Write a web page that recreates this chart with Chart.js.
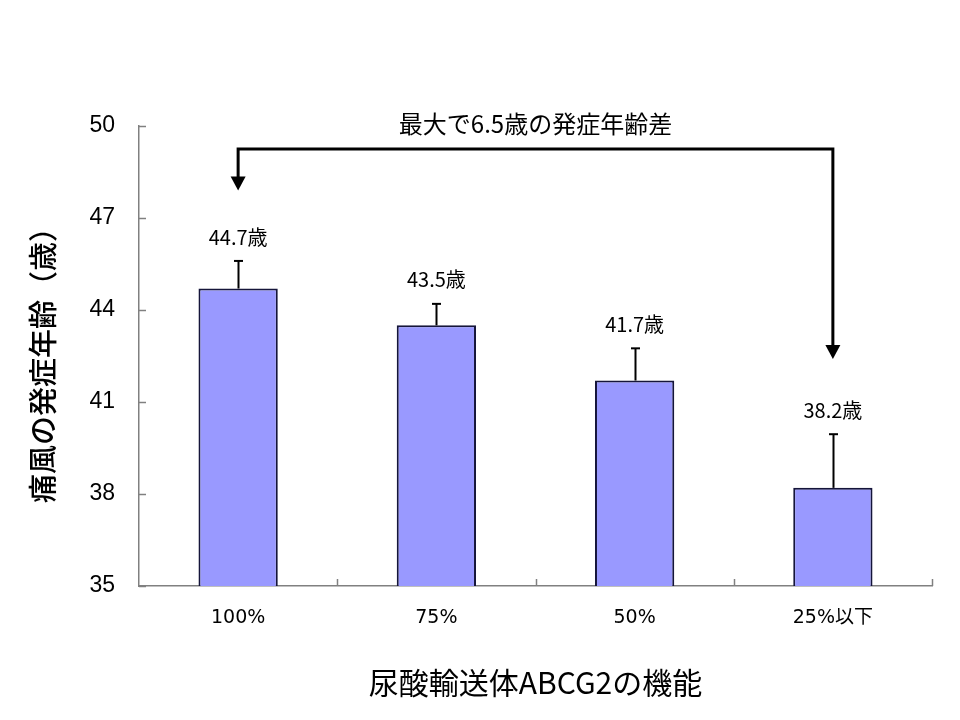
<!DOCTYPE html>
<html><head><meta charset="utf-8">
<script src="https://cdn.jsdelivr.net/npm/chart.js@4/dist/chart.umd.min.js"></script>
<style>html,body{margin:0;padding:0;background:#fff}#wrap{width:960px;height:720px}</style>
</head><body><div id="wrap"><canvas id="c" width="960" height="720"></canvas></div>
<script>
const categories = ['100%', '75%', '50%', '25%以下'];
const onsetAge = [44.7, 43.5, 41.7, 38.2];
const errorTop = [45.6, 44.2, 42.75, 39.95];
const valueLabels = ['44.7歳', '43.5歳', '41.7歳', '38.2歳'];
const yTicks = [35, 38, 41, 44, 47, 50];
const annotationText = '最大で6.5歳の発症年齢差';
const arrowLevel = 49.25;
const arrowTips = [47.9, 42.4];   // value where arrowheads end (bar 1 and bar 4)
const xTitle = '尿酸輸送体ABCG2の機能';
const yTitle = '痛風の発症年齢（歳）';

const JP = '"Noto Sans CJK JP", "Noto Sans", sans-serif';

const overlay = {
  id: 'overlay',
  afterDatasetsDraw(chart) {
    const ctx = chart.ctx, xs = chart.scales.x, ys = chart.scales.y, ca = chart.chartArea;
    ctx.save();
    // tick marks (inside)
    ctx.strokeStyle = '#808080'; ctx.lineWidth = 1.5;
    yTicks.forEach(v => {
      const py = Math.round(ys.getPixelForValue(v)) + 0.5;
      ctx.beginPath(); ctx.moveTo(ca.left, py); ctx.lineTo(ca.left + 7, py); ctx.stroke();
    });
    const cw = (ca.right - ca.left) / categories.length;
    for (let i = 1; i <= categories.length; i++) {
      const px = Math.round(ca.left + i * cw) + 0.5;
      ctx.beginPath(); ctx.moveTo(px, ca.bottom); ctx.lineTo(px, ca.bottom - 7); ctx.stroke();
    }
    // error bars & labels
    const meta = chart.getDatasetMeta(0);
    meta.data.forEach((bar, i) => {
      const px = Math.round(bar.x) + 0.5;
      const top = ys.getPixelForValue(errorTop[i]);
      const base = ys.getPixelForValue(onsetAge[i]);
      ctx.strokeStyle = '#000'; ctx.lineWidth = 2;
      ctx.beginPath(); ctx.moveTo(px, base); ctx.lineTo(px, top); ctx.stroke();
      ctx.beginPath(); ctx.moveTo(px - 4.5, top); ctx.lineTo(px + 4.5, top); ctx.stroke();
      ctx.fillStyle = '#000';
      ctx.font = '20px ' + JP;
      ctx.textAlign = 'center'; ctx.textBaseline = 'middle';
      ctx.fillText(valueLabels[i], bar.x, top - 24);
    });
    // arrow annotation
    const b0 = meta.data[0], b3 = meta.data[categories.length - 1];
    const ay = ys.getPixelForValue(arrowLevel);
    const t0 = ys.getPixelForValue(arrowTips[0]);
    const t1 = ys.getPixelForValue(arrowTips[1]);
    ctx.strokeStyle = '#000'; ctx.lineWidth = 3; ctx.lineJoin = 'miter';
    ctx.beginPath();
    ctx.moveTo(b0.x, t0 - 12); ctx.lineTo(b0.x, ay); ctx.lineTo(b3.x, ay); ctx.lineTo(b3.x, t1 - 12);
    ctx.stroke();
    ctx.fillStyle = '#000';
    [[b0.x, t0], [b3.x, t1]].forEach(([x, t]) => {
      ctx.beginPath(); ctx.moveTo(x - 7.5, t - 14); ctx.lineTo(x + 7.5, t - 14); ctx.lineTo(x, t); ctx.closePath(); ctx.fill();
    });
    ctx.font = '24px ' + JP;
    ctx.textAlign = 'center'; ctx.textBaseline = 'middle';
    ctx.fillText(annotationText, (b0.x + b3.x) / 2, ay - 25);
    // axis titles
    ctx.font = '30px ' + JP;
    ctx.fillText(xTitle, (ca.left + ca.right) / 2, 683);
    ctx.save();
    ctx.translate(43, 358); ctx.rotate(-Math.PI / 2);
    ctx.font = '500 29px ' + JP;
    ctx.fillText(yTitle, 0, 0);
    ctx.restore();
    ctx.restore();
  }
};

new Chart(document.getElementById('c'), {
  type: 'bar',
  data: {
    labels: categories,
    datasets: [{
      data: onsetAge,
      backgroundColor: '#9999ff',
      borderColor: '#15153a',
      borderWidth: 2,
      borderSkipped: false,
      categoryPercentage: 1.0,
      barPercentage: 0.4
    }]
  },
  options: {
    responsive: false,
    animation: false,
    devicePixelRatio: 1,
    layout: { padding: { left: 0, right: 28, top: 126, bottom: 0 } },
    plugins: { legend: { display: false }, tooltip: { enabled: false } },
    scales: {
      x: {
        grid: { display: false, drawTicks: false },
        border: { display: true, color: '#808080', width: 1.5 },
        ticks: { color: '#000', font: { size: 19, family: '"DejaVu Sans", "Noto Sans CJK JP", sans-serif' }, padding: 21 },
        afterFit: s => { s.height = 134; }
      },
      y: {
        min: 35, max: 50,
        afterBuildTicks: s => { s.ticks = yTicks.map(v => ({ value: v })); },
        grid: { display: false, drawTicks: false },
        border: { display: true, color: '#808080', width: 1.5 },
        ticks: { color: '#000', font: { size: 23, family: '"Liberation Sans", Arial, sans-serif' }, padding: 24 },
        afterFit: s => { s.width = 139; }
      }
    }
  },
  plugins: [overlay]
});
</script></body></html>
